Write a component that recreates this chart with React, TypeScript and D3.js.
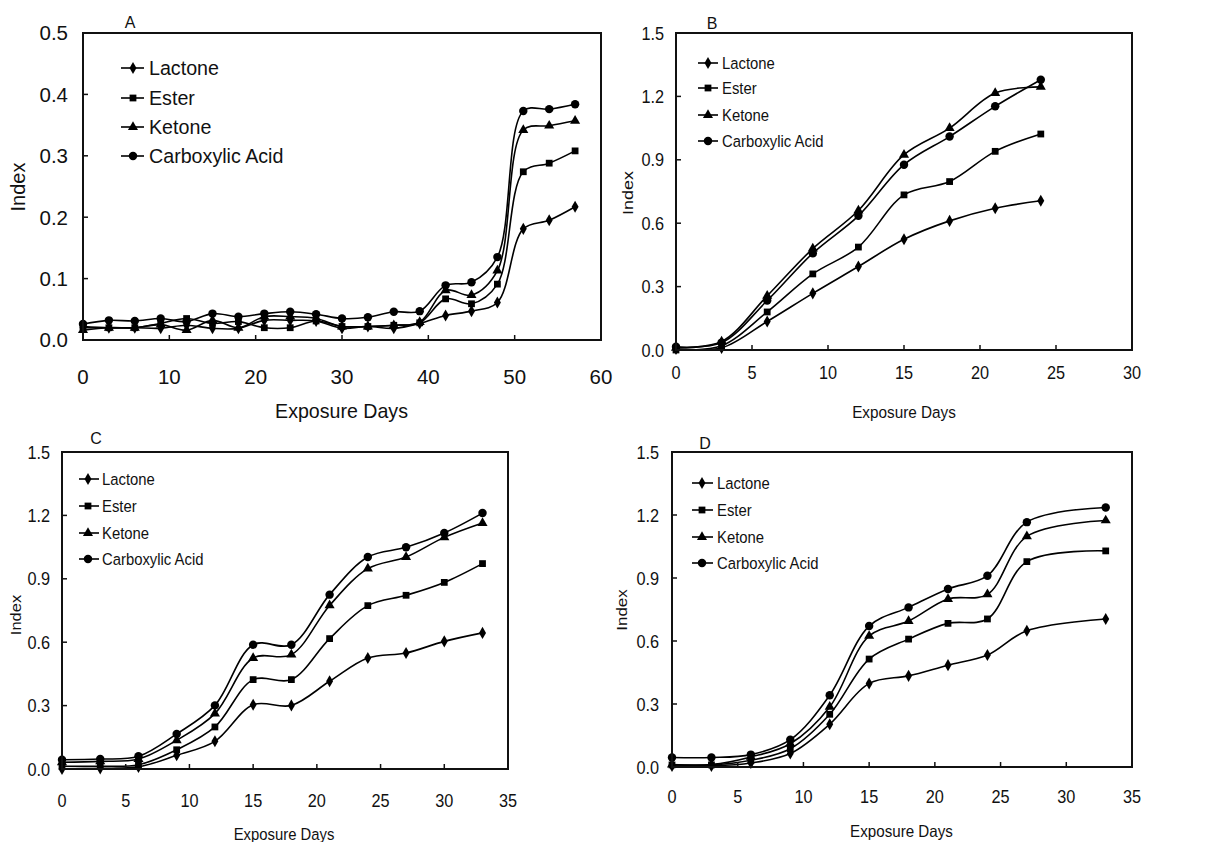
import React from 'react';
import * as d3 from 'd3';

const seriesNames = ['Lactone', 'Ester', 'Ketone', 'Carboxylic Acid'];
const markerShapes = ['diamond', 'square', 'triangle', 'circle'];

// Panel A
const daysA = [0, 3, 6, 9, 12, 15, 18, 21, 24, 27, 30, 33, 36, 39, 42, 45, 48, 51, 54, 57];
const lactoneA = [0.020, 0.020, 0.020, 0.019, 0.024, 0.019, 0.019, 0.032, 0.032, 0.031, 0.019, 0.022, 0.019, 0.027, 0.040, 0.047, 0.061, 0.181, 0.195, 0.217];
const esterA = [0.022, 0.020, 0.020, 0.027, 0.035, 0.027, 0.030, 0.020, 0.020, 0.031, 0.022, 0.022, 0.024, 0.028, 0.067, 0.059, 0.091, 0.274, 0.288, 0.308];
const ketoneA = [0.016, 0.020, 0.020, 0.025, 0.016, 0.032, 0.020, 0.038, 0.038, 0.035, 0.022, 0.022, 0.024, 0.029, 0.081, 0.073, 0.113, 0.342, 0.349, 0.357];
const acidA = [0.026, 0.032, 0.031, 0.035, 0.030, 0.043, 0.038, 0.043, 0.046, 0.042, 0.035, 0.037, 0.046, 0.047, 0.089, 0.094, 0.135, 0.373, 0.376, 0.384];

// Panel B
const daysB = [0, 3, 6, 9, 12, 15, 18, 21, 24];
const lactoneB = [0.005, 0.010, 0.135, 0.268, 0.395, 0.524, 0.611, 0.671, 0.706];
const esterB = [0.000, 0.020, 0.180, 0.360, 0.487, 0.734, 0.797, 0.940, 1.022];
const ketoneB = [0.010, 0.040, 0.256, 0.480, 0.660, 0.924, 1.050, 1.216, 1.245];
const acidB = [0.015, 0.035, 0.234, 0.458, 0.635, 0.877, 1.010, 1.153, 1.279];

// Panel C
const daysC = [0, 3, 6, 9, 12, 15, 18, 21, 24, 27, 30, 33];
const lactoneC = [0.000, 0.003, 0.010, 0.065, 0.131, 0.304, 0.301, 0.415, 0.525, 0.549, 0.604, 0.644];
const esterC = [0.013, 0.013, 0.020, 0.091, 0.199, 0.423, 0.423, 0.617, 0.773, 0.822, 0.883, 0.972];
const ketoneC = [0.032, 0.036, 0.047, 0.136, 0.262, 0.525, 0.541, 0.774, 0.948, 1.003, 1.096, 1.164];
const acidC = [0.044, 0.047, 0.060, 0.166, 0.301, 0.588, 0.588, 0.825, 1.003, 1.049, 1.117, 1.211];

// Panel D
const daysD = [0, 3, 6, 9, 12, 15, 18, 21, 24, 27, 33];
const lactoneD = [0.005, 0.005, 0.019, 0.064, 0.204, 0.398, 0.434, 0.485, 0.533, 0.649, 0.705];
const esterD = [0.010, 0.010, 0.032, 0.087, 0.251, 0.514, 0.609, 0.684, 0.705, 0.978, 1.029];
const ketoneD = [0.012, 0.012, 0.048, 0.111, 0.286, 0.624, 0.695, 0.800, 0.822, 1.098, 1.174];
const acidD = [0.045, 0.045, 0.059, 0.130, 0.342, 0.671, 0.760, 0.848, 0.911, 1.166, 1.236];

const xTicksA = [0, 10, 20, 30, 40, 50, 60];
const yTicksA = [0, 0.1, 0.2, 0.3, 0.4, 0.5];
const xTicksB = [0, 5, 10, 15, 20, 25, 30];
const xTicksCD = [0, 5, 10, 15, 20, 25, 30, 35];
const yTicksBCD = [0, 0.3, 0.6, 0.9, 1.2, 1.5];

const FONT = 'Liberation Sans, Arial, Helvetica, sans-serif';

type TxtProps = {
  x: number; y: number; fs: number; sx?: number; sy?: number; anchor?: string; rotate?: number; children: React.ReactNode;
};
function Txt({ x, y, fs, sx = 1, sy = 1, anchor = 'start', rotate = 0, children }: TxtProps) {
  return (
    <text
      transform={`translate(${x},${y}) rotate(${rotate}) scale(${sx},${sy})`}
      fontSize={fs}
      fontFamily={FONT}
      textAnchor={anchor}
      fill="#111"
    >
      {children}
    </text>
  );
}

function Marker({ shape, x, y }: { shape: string; x: number; y: number }) {
  const map: Record<string, [d3.SymbolType, number]> = {
    diamond: [d3.symbolDiamond, 42],
    square: [d3.symbolSquare, 46],
    triangle: [d3.symbolTriangle, 44],
    circle: [d3.symbolCircle, 56],
  };
  const [type, size] = map[shape];
  const d = d3.symbol().type(type).size(size)() || '';
  return <path d={d} transform={`translate(${x},${y})`} fill="#000" />;
}

type PanelCfg = {
  box: [number, number, number, number];
  xDomain: [number, number];
  yDomain: [number, number];
  xTicks: number[];
  yTicks: number[];
  days: number[];
  series: number[][];
  letter: { text: string; x: number; y: number; fs: number };
  tickFs: number; tickSx: number; yLabRight: number; xLabBase: number;
  legend: { lineX1: number; lineX2: number; mx: number; tx: number; rows: number[]; fs: number; sx: number };
  yTitle: { x: number; y: number; fs: number; sy: number };
  xTitle: { x: number; y: number; fs: number; sx: number };
};

function Panel({ cfg }: { cfg: PanelCfg }) {
  const [l, t, r, b] = cfg.box;
  const x = d3.scaleLinear().domain(cfg.xDomain).range([l, r]);
  const y = d3.scaleLinear().domain(cfg.yDomain).range([b, t]);
  const line = d3
    .line<[number, number]>()
    .x((d) => x(d[0]))
    .y((d) => y(d[1]))
    .curve(d3.curveCatmullRom.alpha(0.5));
  const fmt = d3.format('.1f');
  const tk = 5;
  return (
    <g>
      {cfg.series.map((vals, si) => {
        const pts = cfg.days.map((dd, i) => [dd, vals[i]] as [number, number]);
        return (
          <g key={si}>
            <path d={line(pts) || ''} fill="none" stroke="#000" strokeWidth={1.6} />
            {pts.map((p, i) => (
              <Marker key={i} shape={markerShapes[si]} x={x(p[0])} y={y(p[1])} />
            ))}
          </g>
        );
      })}
      <rect x={l} y={t} width={r - l} height={b - t} fill="none" stroke="#111" strokeWidth={2} />
      {cfg.xTicks.map((v, i) => (
        <g key={'xt' + i}>
          {i > 0 && i < cfg.xTicks.length - 1 && (
            <line x1={x(v)} x2={x(v)} y1={b} y2={b - tk} stroke="#111" strokeWidth={1.5} />
          )}
          <Txt x={x(v)} y={cfg.xLabBase} fs={cfg.tickFs} sx={cfg.tickSx} anchor="middle">
            {String(v)}
          </Txt>
        </g>
      ))}
      {cfg.yTicks.map((v, i) => (
        <g key={'yt' + i}>
          {i > 0 && i < cfg.yTicks.length - 1 && (
            <line x1={l} x2={l + tk} y1={y(v)} y2={y(v)} stroke="#111" strokeWidth={1.5} />
          )}
          <Txt x={cfg.yLabRight} y={y(v) + cfg.tickFs * 0.36} fs={cfg.tickFs} sx={cfg.tickSx} anchor="end">
            {fmt(v)}
          </Txt>
        </g>
      ))}
      {seriesNames.map((name, si) => {
        const ry = cfg.legend.rows[si];
        return (
          <g key={'lg' + si}>
            <line x1={cfg.legend.lineX1} x2={cfg.legend.lineX2} y1={ry} y2={ry} stroke="#000" strokeWidth={1.6} />
            <Marker shape={markerShapes[si]} x={cfg.legend.mx} y={ry} />
            <Txt x={cfg.legend.tx} y={ry + cfg.legend.fs * 0.36} fs={cfg.legend.fs} sx={cfg.legend.sx}>
              {name}
            </Txt>
          </g>
        );
      })}
      <Txt x={cfg.letter.x} y={cfg.letter.y} fs={cfg.letter.fs} anchor="middle">
        {cfg.letter.text}
      </Txt>
      <Txt x={cfg.yTitle.x} y={cfg.yTitle.y} fs={cfg.yTitle.fs} sy={cfg.yTitle.sy} rotate={-90} anchor="middle">
        Index
      </Txt>
      <Txt x={cfg.xTitle.x} y={cfg.xTitle.y} fs={cfg.xTitle.fs} sx={cfg.xTitle.sx} anchor="middle">
        Exposure Days
      </Txt>
    </g>
  );
}

const panels: PanelCfg[] = [
  {
    box: [83, 33, 601, 340],
    xDomain: [0, 60], yDomain: [0, 0.5], xTicks: xTicksA, yTicks: yTicksA,
    days: daysA, series: [lactoneA, esterA, ketoneA, acidA],
    letter: { text: 'A', x: 130, y: 28, fs: 16 },
    tickFs: 20.5, tickSx: 1, yLabRight: 68, xLabBase: 384,
    legend: { lineX1: 121, lineX2: 144, mx: 133, tx: 149, rows: [68, 98, 127, 156], fs: 20.5, sx: 0.96 },
    yTitle: { x: 25, y: 187, fs: 20, sy: 1 },
    xTitle: { x: 341.5, y: 418, fs: 20, sx: 0.98 },
  },
  {
    box: [676, 33, 1132, 350],
    xDomain: [0, 30], yDomain: [0, 1.5], xTicks: xTicksB, yTicks: yTicksBCD,
    days: daysB, series: [lactoneB, esterB, ketoneB, acidB],
    letter: { text: 'B', x: 712, y: 29, fs: 16 },
    tickFs: 18.5, tickSx: 0.88, yLabRight: 664, xLabBase: 379,
    legend: { lineX1: 698, lineX2: 718, mx: 708, tx: 722, rows: [63, 88, 115, 141], fs: 16.5, sx: 0.9 },
    yTitle: { x: 633, y: 193, fs: 18, sy: 0.82 },
    xTitle: { x: 904, y: 418, fs: 17, sx: 0.9 },
  },
  {
    box: [62, 452, 508, 769],
    xDomain: [0, 35], yDomain: [0, 1.5], xTicks: xTicksCD, yTicks: yTicksBCD,
    days: daysC, series: [lactoneC, esterC, ketoneC, acidC],
    letter: { text: 'C', x: 96, y: 444, fs: 16 },
    tickFs: 18.5, tickSx: 0.88, yLabRight: 50, xLabBase: 807,
    legend: { lineX1: 79, lineX2: 99, mx: 88, tx: 102, rows: [479, 506, 533, 559], fs: 16.5, sx: 0.9 },
    yTitle: { x: 21, y: 615, fs: 16.5, sy: 0.9 },
    xTitle: { x: 284, y: 840, fs: 16.5, sx: 0.9 },
  },
  {
    box: [672, 452, 1132, 767],
    xDomain: [0, 35], yDomain: [0, 1.5], xTicks: xTicksCD, yTicks: yTicksBCD,
    days: daysD, series: [lactoneD, esterD, ketoneD, acidD],
    letter: { text: 'D', x: 705, y: 449, fs: 16 },
    tickFs: 18.5, tickSx: 0.88, yLabRight: 659, xLabBase: 803,
    legend: { lineX1: 692, lineX2: 713, mx: 702, tx: 717, rows: [483, 510, 537, 563], fs: 16.5, sx: 0.9 },
    yTitle: { x: 627, y: 610, fs: 17, sy: 0.85 },
    xTitle: { x: 901.5, y: 837, fs: 16.5, sx: 0.92 },
  },
];

export default function App() {
  return (
    <svg
      width={1222}
      height={842}
      viewBox="0 0 1222 842"
      style={{ position: 'absolute', left: 0, top: 0, display: 'block', background: '#fff' }}
    >
      <rect x={0} y={0} width={1222} height={842} fill="#fff" />
      {panels.map((p, i) => (
        <Panel key={i} cfg={p} />
      ))}
    </svg>
  );
}
